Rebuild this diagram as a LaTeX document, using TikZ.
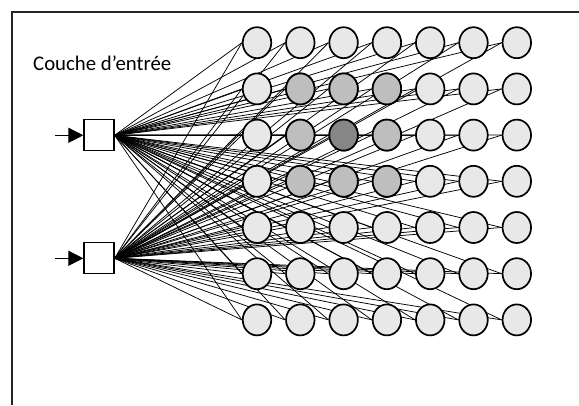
\documentclass[tikz,border=0pt]{standalone}
\usepackage{fontspec}
\setmainfont{Carlito}
\usetikzlibrary{arrows.meta,shapes.geometric,backgrounds}
\definecolor{cellLight}{HTML}{E8E8E8}
\definecolor{cellMid}{HTML}{BEBEBE}
\definecolor{cellDark}{HTML}{868686}
\tikzset{
  neuron/.style={ellipse, draw=black, line width=1.7pt, fill=cellLight,
    minimum width=28.5pt, minimum height=31pt, inner sep=0pt},
  inbox/.style={rectangle, draw=black, line width=1.3pt, fill=white,
    minimum width=30pt, minimum height=31pt, inner sep=0pt},
  link/.style={line width=0.75pt, black},
  feed/.style={line width=1.2pt, -{Triangle[length=15pt,width=15pt]}},
  frameline/.style={line width=1.5pt, black!85},
}
\begin{document}
\begin{tikzpicture}[x=1pt,y=-1pt]
  \useasboundingbox (0,0) rectangle (579,405);
  % frame
  \draw[frameline] (12,405) -- (12,12) -- (579,12);
  % label
  \node[anchor=base west, font=\fontsize{20.8}{24}\selectfont, inner sep=0pt] (title) at (33,70.7) {Couche d’entrée};
  % input units
  \node[inbox] (in1) at (99,135.3) {};
  \node[inbox] (in2) at (99,258.3) {};
  \coordinate (s1) at (55,135.3);
  \coordinate (s2) at (55,258.3);
  \draw[feed] (s1) -- (in1.west);
  \draw[feed] (s2) -- (in2.west);
  % self-organising map: 7 x 7 neurons
  \foreach \r in {1,...,7}{
    \foreach \c in {1,...,7}{
      \node[neuron] (n-\r-\c) at ({257+43.3*(\c-1)},{42.7+46.2*(\r-1)}) {};
    }
  }
  % neighbourhood of the winning unit
  \foreach \r/\c in {2/2,2/3,2/4,3/2,3/4,4/2,4/3,4/4}{
    \node[neuron, fill=cellMid] at (n-\r-\c) {};
  }
  \node[neuron, fill=cellDark] at (n-3-3) {};
  % connections from both inputs to every neuron, kept behind the units
  \begin{pgfonlayer}{background}
    \foreach \r in {1,...,7}{
      \foreach \c in {1,...,7}{
        \draw[link] (in1.east) -- (n-\r-\c.west);
        \draw[link] (in2.east) -- (n-\r-\c.west);
      }
    }
  \end{pgfonlayer}
\end{tikzpicture}
\end{document}
